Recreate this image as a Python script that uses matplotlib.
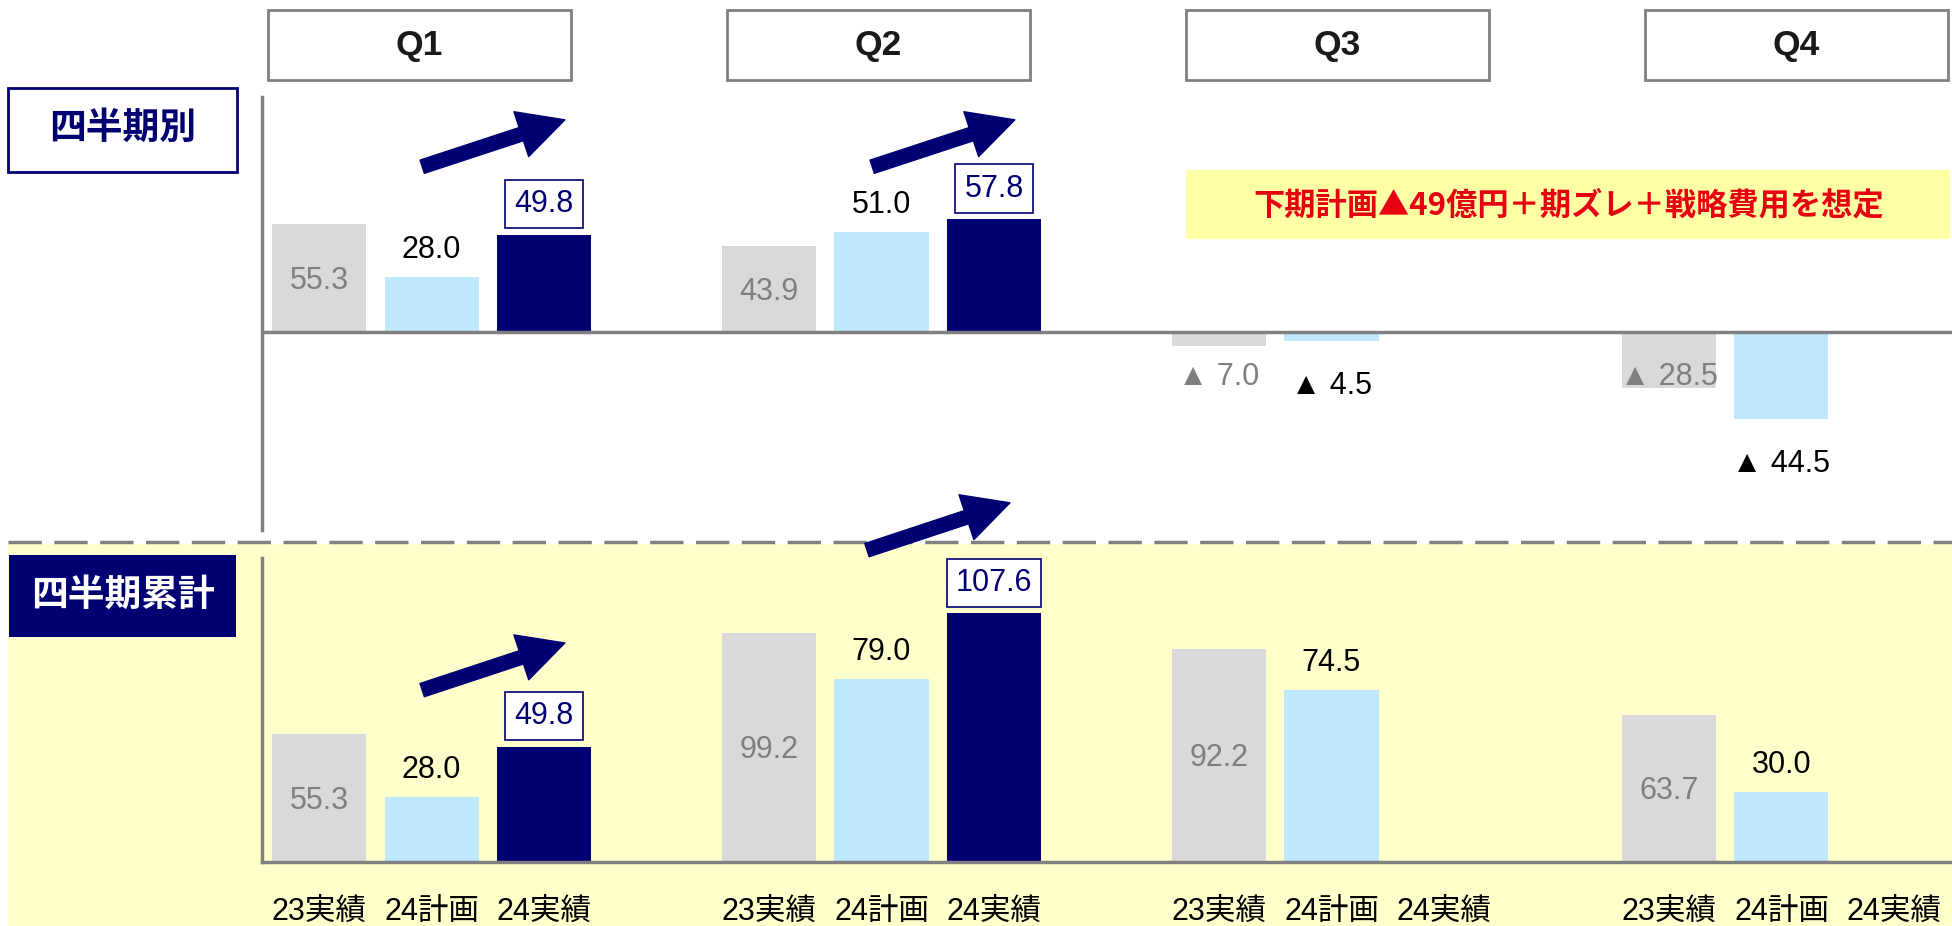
import numpy as np
import matplotlib
matplotlib.use('Agg')
import matplotlib.pyplot as plt
from matplotlib.patches import Rectangle
from matplotlib.lines import Line2D

plt.rcParams['font.family'] = ['Liberation Sans', 'Noto Sans CJK JP', 'DejaVu Sans']

quarters = ['Q1', 'Q2', 'Q3', 'Q4']
bar_names = ['23実績', '24計画', '24実績']

# 四半期別
q_23act = [55.3, 43.9, -7.0, -28.5]
q_24plan = [28.0, 51.0, -4.5, -44.5]
q_24act = [49.8, 57.8, np.nan, np.nan]

# 四半期累計
c_23act = [55.3, 99.2, 92.2, 63.7]
c_24plan = [28.0, 79.0, 74.5, 30.0]
c_24act = [49.8, 107.6, np.nan, np.nan]

panel_titles = ['四半期別', '四半期累計']
note_text = '下期計画▲49億円＋期ズレ＋戦略費用を想定'

# colours
bar_colors = ['#D9D9D9', '#C0E8FC', '#000073']
gray_txt = '#7F7F7F'
navy = '#000073'
axis_gray = '#808080'

W, H = 1952, 926
PT = 72 / 100  # px -> pt

def fx(px):
    return px / W

def fy(py):
    return 1 - py / H

def fmt(v):
    return f'{v:.1f}' if v >= 0 else f'▲ {abs(v):.1f}'

def put(ax, x, y, s, dy_px, color, va='baseline', **kw):
    ax.annotate(s, (x, y), xytext=(0, dy_px * PT), textcoords='offset points',
                ha='center', va=va, color=color, fontsize=22,
                annotation_clip=False, **kw)

def draw_panel(ax, s23, s24p, s24a, neg_gray_y):
    xs = np.arange(len(quarters)) * 4
    for j, vals in enumerate([s23, s24p, s24a]):
        for i, v in enumerate(vals):
            if np.isnan(v):
                continue
            ax.bar(xs[i] + j, v, width=0.836, color=bar_colors[j], zorder=1)
    for i in range(len(quarters)):
        v = s23[i]
        put(ax, xs[i], v / 2 if v > 0 else neg_gray_y, fmt(v), -11, gray_txt)
        v = s24p[i]
        if v >= 0:
            put(ax, xs[i] + 1, v, fmt(v), 19, 'black')
        else:
            put(ax, xs[i] + 1, v, fmt(v), -53.5, 'black')
        v = s24a[i]
        if not np.isnan(v):
            put(ax, xs[i] + 2, v, fmt(v), 30.5, navy, va='center',
                bbox=dict(boxstyle='square,pad=0.3', fc='white', ec=navy, lw=1.2))

def arrow(ax, x0, y0, x1, y1):
    ax.annotate('', xy=(x1, y1), xytext=(x0, y0), annotation_clip=False,
                arrowprops=dict(arrowstyle='simple,head_length=3.3,head_width=3.4,tail_width=1.0',
                                mutation_scale=10, color=navy, shrinkA=0, shrinkB=0))

fig = plt.figure(figsize=(W / 100, H / 100), dpi=100)

# background of the cumulative section + dashed separator
fig.add_artist(Rectangle((fx(8), 0), fx(W - 8), (926 - 544) / H, transform=fig.transFigure,
                         fc='#FFFFCC', ec='none', zorder=-2))
fig.add_artist(Line2D([fx(8), 1], [fy(541.7)] * 2, transform=fig.transFigure, color=axis_gray,
                      lw=2.5, ls=(0, (9.6, 3.6)), zorder=-1))

ax_top = fig.add_axes([fx(262), fy(530), fx(W - 262), (530 - 97) / H])
ax_bot = fig.add_axes([fx(262), fy(861.7), fx(W - 262), (861.7 - 558) / H])

for ax in (ax_top, ax_bot):
    ax.set_facecolor('none')
    ax.set_xlim(-0.507, 14.516)
    ax.set_xticks([])
    ax.set_yticks([])
    for s in ['top', 'right']:
        ax.spines[s].set_visible(False)
    ax.spines['left'].set_color(axis_gray)
    ax.spines['left'].set_linewidth(2.5)
ax_top.spines['bottom'].set_visible(False)
ax_bot.spines['bottom'].set_color(axis_gray)
ax_bot.spines['bottom'].set_linewidth(2.5)
ax_bot.spines['bottom'].set_zorder(3)

ax_top.set_ylim(-101.4, 120.3)
ax_bot.set_ylim(0, 131.5)
ax_top.axhline(0, color=axis_gray, lw=2.5, zorder=3)

draw_panel(ax_top, q_23act, q_24plan, q_24act, -21.5)
draw_panel(ax_bot, c_23act, c_24plan, c_24act, None)

# trend arrows
arrow(ax_top, 0.917, 84.6, 2.185, 108.6)
arrow(ax_top, 4.917, 84.6, 6.185, 108.6)
arrow(ax_bot, 0.917, 74.3, 2.185, 94.7)
arrow(ax_bot, 4.871, 134.9, 6.142, 155.4)

# category labels under the bars
for i in range(len(quarters)):
    for j, name in enumerate(bar_names):
        ax_bot.annotate(name, (i * 4 + j, 0), xytext=(0, -(912 - 861.7) * PT),
                        textcoords='offset points', ha='center', va='center',
                        fontsize=22, annotation_clip=False)

# quarter header boxes
for i, q in enumerate(quarters):
    left = 268 + 459 * i
    fig.add_artist(Rectangle((fx(left), fy(80)), fx(303), 70 / H, transform=fig.transFigure,
                             fc='white', ec=axis_gray, lw=2))
    fig.text(fx(left + 151.5), fy(45), q, ha='center', va='center', fontsize=25.5,
             fontweight='bold', color='#1A1A1A')

# panel title boxes
fig.add_artist(Rectangle((fx(8), fy(172)), fx(229), 84 / H, transform=fig.transFigure,
                         fc='white', ec=navy, lw=2))
fig.text(fx(122.5), fy(128), panel_titles[0], ha='center', va='center', fontsize=26.5,
         fontweight='bold', color=navy, family=['Noto Sans CJK JP'])
fig.add_artist(Rectangle((fx(9), fy(637)), fx(227), 82 / H, transform=fig.transFigure,
                         fc=navy, ec='none'))
fig.text(fx(122.5), fy(595), panel_titles[1], ha='center', va='center', fontsize=26.5,
         fontweight='bold', color='white', family=['Noto Sans CJK JP'])

# note box
fig.add_artist(Rectangle((fx(1186), fy(239)), fx(764), 69 / H, transform=fig.transFigure,
                         fc='#FFFFA5', ec='none'))
fig.text(fx(1569), fy(205), note_text, ha='center', va='center', fontsize=22.5,
         fontweight='bold', color='#E60012', family=['Noto Sans CJK JP'])

fig.savefig('out.png', dpi=100)
